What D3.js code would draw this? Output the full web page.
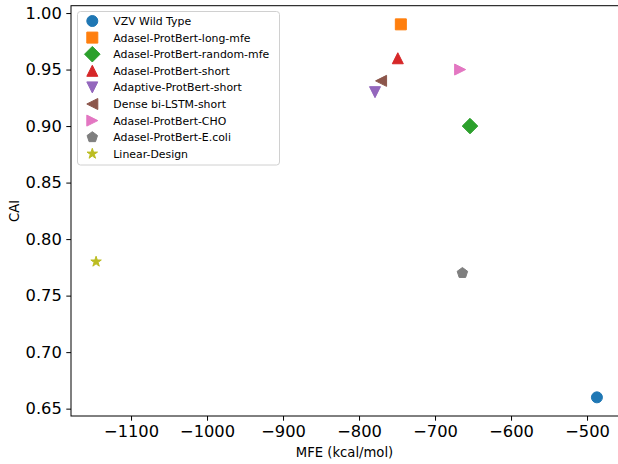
<!DOCTYPE html>
<html><head><meta charset="utf-8">
<script src="https://cdn.jsdelivr.net/npm/d3@7"></script>
<style>
body{margin:0;background:#fff;}
svg{display:block;font-family:"DejaVu Sans",sans-serif;}
</style></head>
<body>
<svg id="chart" width="618" height="464"></svg>
<script>
const names = ["VZV Wild Type","Adasel-ProtBert-long-mfe","Adasel-ProtBert-random-mfe","Adasel-ProtBert-short","Adaptive-ProtBert-short","Dense bi-LSTM-short","Adasel-ProtBert-CHO","Adasel-ProtBert-E.coli","Linear-Design"];
const mfe = [-487,-745,-654,-749,-779,-771,-667,-664,-1146];
const cai = [0.66,0.99,0.90,0.96,0.93,0.94,0.95,0.77,0.78];
const colors = ["#1f77b4","#ff7f0e","#2ca02c","#d62728","#9467bd","#8c564b","#e377c2","#7f7f7f","#bcbd22"];
const markers = ["circle","square","diamond","tri-up","tri-down","tri-left","tri-right","pentagon","star"];
const xTicks = [-1100,-1000,-900,-800,-700,-600,-500];
const yTicks = [0.65,0.70,0.75,0.80,0.85,0.90,0.95,1.00];

const svg = d3.select("#chart");
const L=71, R=622, T=5.7, B=416;
const x = d3.scaleLinear().domain([-1179,-454]).range([L,R]);
const y = d3.scaleLinear().domain([0.6435,1.0065]).range([B,T]);

function markerPath(type, s){
  const h=s/2;
  const poly = pts => "M"+pts.map(p=>p[0].toFixed(2)+","+p[1].toFixed(2)).join("L")+"Z";
  switch(type){
    case "circle": return `M${h},0A${h},${h} 0 1,1 ${-h},0A${h},${h} 0 1,1 ${h},0Z`;
    case "square": return poly([[-h,-h],[h,-h],[h,h],[-h,h]]);
    case "diamond": { const d=h*Math.SQRT2; return poly([[0,-d],[d,0],[0,d],[-d,0]]); }
    case "tri-up": return poly([[0,-h],[h,h],[-h,h]]);
    case "tri-down": return poly([[0,h],[h,-h],[-h,-h]]);
    case "tri-left": return poly([[-h,0],[h,-h],[h,h]]);
    case "tri-right": return poly([[h,0],[-h,-h],[-h,h]]);
    case "pentagon": { const p=[]; for(let i=0;i<5;i++){const a=-Math.PI/2+i*2*Math.PI/5; p.push([h*Math.cos(a),h*Math.sin(a)]);} return poly(p); }
    case "star": { const p=[]; for(let i=0;i<10;i++){const a=-Math.PI/2+i*Math.PI/5; const r=i%2?h*0.381966:h; p.push([r*Math.cos(a),r*Math.sin(a)]);} return poly(p); }
  }
}
const MS = 11;

// axes
const xAxis = d3.axisBottom(x).tickValues(xTicks).tickSizeInner(4.7).tickSizeOuter(0).tickPadding(4.5)
  .tickFormat(d=>String(d).replace("-","\u2212"));
const gx = svg.append("g").attr("transform",`translate(0,${B})`).call(xAxis);
const yAxis = d3.axisLeft(y).tickValues(yTicks).tickSizeInner(4.7).tickSizeOuter(0).tickPadding(4.5)
  .tickFormat(d3.format(".2f"));
const gy = svg.append("g").attr("transform",`translate(${L},0)`).call(yAxis);
[gx,gy].forEach(g=>{
  g.select(".domain").remove();
  g.selectAll(".tick line").attr("stroke","#000").attr("stroke-width",1);
  g.selectAll(".tick text").attr("fill","#000").style("font-size","16.3px").style("font-family","DejaVu Sans");
});
// spines
svg.append("rect").attr("x",L).attr("y",T).attr("width",R-L).attr("height",B-T)
  .attr("fill","none").attr("stroke","#000").attr("stroke-width",1);

svg.append("text").attr("x",(L+R)/2 - 2).attr("y",457).attr("text-anchor","middle")
  .style("font-size","13.2px").text("MFE (kcal/mol)");
svg.append("text").attr("transform","translate(18.5,211) rotate(-90)").attr("text-anchor","middle")
  .style("font-size","13.2px").text("CAI");

// points
svg.append("g").selectAll("path").data(names).join("path")
  .attr("transform",(d,i)=>`translate(${x(mfe[i])},${y(cai[i])})`)
  .attr("d",(d,i)=>markerPath(markers[i],MS))
  .attr("fill",(d,i)=>colors[i]).attr("stroke",(d,i)=>colors[i]).attr("stroke-width",1)
  .attr("stroke-linejoin","round");

// legend
const lg = svg.append("g");
lg.append("rect").attr("x",77.5).attr("y",11.5).attr("width",202).attr("height",153.5).attr("rx",3)
  .attr("fill","rgba(255,255,255,0.8)").attr("stroke","#d0d0d0").attr("stroke-width",1);
const rows = lg.selectAll("g").data(names).join("g")
  .attr("transform",(d,i)=>`translate(0,${21+i*16.6})`);
rows.append("path").attr("transform","translate(92.3,0)")
  .attr("d",(d,i)=>markerPath(markers[i],MS)).attr("fill",(d,i)=>colors[i])
  .attr("stroke",(d,i)=>colors[i]).attr("stroke-width",1).attr("stroke-linejoin","round");
rows.append("text").attr("x",113.3).attr("dy","0.36em").style("font-size","10.9px").text(d=>d);
</script>
</body></html>
